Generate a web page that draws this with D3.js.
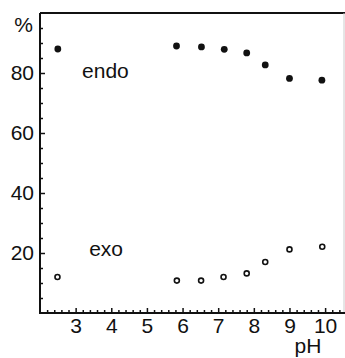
<!DOCTYPE html>
<html>
<head>
<meta charset="utf-8">
<script src="https://cdn.jsdelivr.net/npm/d3@7"></script>
<style>
  body { margin: 0; background: white; }
  text { font-family: "Liberation Sans", Arial, sans-serif; fill: #111; }
</style>
</head>
<body>
<div id="chart"></div>
<script>
const svgWidth = 345;
const svgHeight = 358;

// pH values and yields (%)
const phEndo = [2.5, 5.83, 6.53, 7.17, 7.8, 8.32, 9.0, 9.91];
const endoPct = [88, 89, 88.7, 87.9, 86.7, 82.7, 78.2, 77.6];
const phExo = [2.49, 5.84, 6.52, 7.15, 7.8, 8.32, 9.0, 9.92];
const exoPct = [12, 10.8, 10.8, 12, 13.2, 17, 21.2, 22.1];

const xTicks = [3, 4, 5, 6, 7, 8, 9, 10];
const yTicks = [20, 40, 60, 80];

const margin = {top: 13, right: 1, bottom: 45, left: 40};
const width = svgWidth - margin.left - margin.right;
const height = svgHeight - margin.top - margin.bottom;

const svg = d3.select('#chart').append('svg')
  .attr('width', svgWidth)
  .attr('height', svgHeight);

const g = svg.append('g')
  .attr('transform', `translate(${margin.left},${margin.top})`);

const x = d3.scaleLinear().domain([2, 10.53]).range([0, width]);
const y = d3.scaleLinear().domain([0, 100]).range([height, 0]);

// frame: top thick, right faint
g.append('line').attr('x1', 0).attr('x2', width + 1).attr('y1', 0).attr('y2', 0)
  .attr('stroke', '#111').attr('stroke-width', 2);
g.append('line').attr('x1', width).attr('x2', width).attr('y1', 0).attr('y2', height)
  .attr('stroke', '#ccc').attr('stroke-width', 1);

// minor ticks
const xMinor = d3.range(2.2, 10.5, 0.2).filter(v => Math.abs(v - Math.round(v)) > 0.01);
const yMinor = d3.range(5, 100, 5).filter(v => v % 20 !== 0);

//x axis, ticks pointing up into the plot
const xAxis = g.append('g').attr('transform', `translate(0,${height})`);
xAxis.call(d3.axisBottom(x).tickValues(xTicks).tickSize(-5).tickPadding(5).tickFormat(d3.format('d')));
xAxis.append('g').call(d3.axisBottom(x).tickValues(xMinor).tickSize(-3).tickFormat(''));
xAxis.selectAll('.domain').remove();
xAxis.append('line').attr('x1', -1).attr('x2', width + 1).attr('stroke', '#111').attr('stroke-width', 2);

//y axis, ticks pointing right
const yAxis = g.append('g');
yAxis.call(d3.axisLeft(y).tickValues(yTicks).tickSize(-5).tickPadding(6));
yAxis.append('g').call(d3.axisLeft(y).tickValues(yMinor).tickSize(-3).tickFormat(''));
yAxis.selectAll('.domain').remove();
yAxis.append('line').attr('y1', 0).attr('y2', height + 1).attr('stroke', '#111').attr('stroke-width', 2);

svg.selectAll('.tick line').attr('stroke', '#111').attr('stroke-width', 1.5);
svg.selectAll('.tick text').style('font-size', '21px').attr('fill', '#111');

g.append('text').text('%')
  .attr('x', -7).attr('y', y(96)).attr('dy', '0.35em')
  .attr('text-anchor', 'end').style('font-size', '21px');

svg.append('text').text('pH')
  .attr('x', 308).attr('y', 353)
  .attr('text-anchor', 'middle').style('font-size', '21px');

// series labels
g.append('text').text('endo')
  .attr('x', x(3.18)).attr('y', y(78.2))
  .style('font-size', '21px');
g.append('text').text('exo')
  .attr('x', x(3.38)).attr('y', y(19))
  .style('font-size', '21px');

// endo: filled dots
g.selectAll('.endo').data(phEndo).join('circle')
  .attr('class', 'endo')
  .attr('cx', d => x(d))
  .attr('cy', (d, i) => y(endoPct[i]))
  .attr('r', 3.4)
  .attr('fill', '#111');

// exo: open dots
g.selectAll('.exo').data(phExo).join('circle')
  .attr('class', 'exo')
  .attr('cx', d => x(d))
  .attr('cy', (d, i) => y(exoPct[i]))
  .attr('r', 2.5)
  .attr('fill', 'white')
  .attr('stroke', '#111')
  .attr('stroke-width', 1.6);
</script>
</body>
</html>
